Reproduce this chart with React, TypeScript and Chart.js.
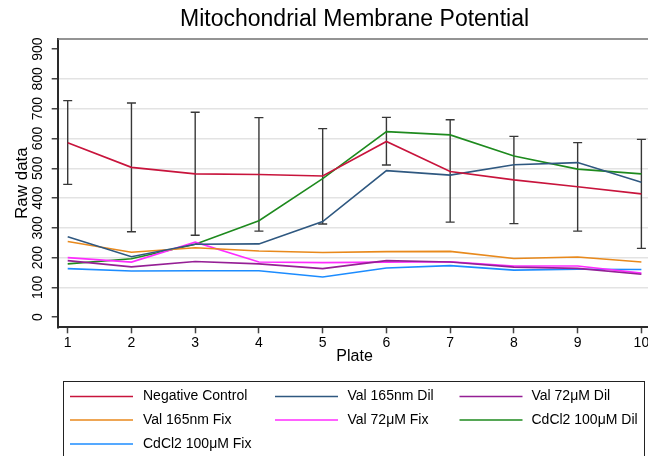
import { useEffect, useRef } from "react";
import { Chart, registerables } from "chart.js";

Chart.register(...registerables);

const plates = [1, 2, 3, 4, 5, 6, 7, 8, 9, 10];
const yTicks = [0, 100, 200, 300, 400, 500, 600, 700, 800, 900];

const seriesLabels = [
  "Negative Control",
  "Val 165nm Dil",
  "Val 72μM Dil",
  "Val 165nm Fix",
  "Val 72μM Fix",
  "CdCl2 100μM Dil",
  "CdCl2 100μM Fix",
];

const negativeControl = [586, 503, 481, 479, 474, 590, 489, 461, 438, 414];
const val165Dil = [270, 203, 245, 246, 321, 492, 477, 512, 519, 453];
const val72Dil = [190, 169, 187, 179, 163, 190, 185, 168, 164, 144];
const val165Fix = [254, 218, 233, 222, 217, 220, 221, 197, 202, 185];
const val72Fix = [200, 185, 252, 185, 183, 185, 186, 172, 172, 148];
const cdcl2Dil = [179, 196, 245, 324, 465, 623, 612, 541, 497, 481];
const cdcl2Fix = [163, 155, 156, 156, 135, 165, 173, 158, 161, 160];

const errLow = [446, 287, 275, 289, 313, 511, 319, 314, 289, 231];
const errHigh = [727, 719, 688, 670, 633, 671, 663, 607, 586, 597];

const seriesValues = [negativeControl, val165Dil, val72Dil, val165Fix, val72Fix, cdcl2Dil, cdcl2Fix];
const seriesColors = ["#c8143c", "#2f5880", "#951f95", "#e8891c", "#ff2cff", "#1e8a1e", "#1c8cff"];

const FONT = "'Liberation Sans', Arial, Helvetica, sans-serif";

const errorBarPlugin = {
  id: "errorBars",
  beforeDatasetsDraw(chart: any) {
    const { ctx, scales } = chart;
    const x = scales.x;
    const y = scales.y;
    ctx.save();
    ctx.strokeStyle = "#383838";
    ctx.lineWidth = 1.4;
    plates.forEach((p, i) => {
      const px = x.getPixelForValue(p);
      const yl = y.getPixelForValue(errLow[i]);
      const yh = y.getPixelForValue(errHigh[i]);
      ctx.beginPath();
      ctx.moveTo(px, yl);
      ctx.lineTo(px, yh);
      ctx.moveTo(px - 4.5, yl);
      ctx.lineTo(px + 4.5, yl);
      ctx.moveTo(px - 4.5, yh);
      ctx.lineTo(px + 4.5, yh);
      ctx.stroke();
    });
    ctx.restore();
  },
};

const framePlugin = {
  id: "topFrame",
  afterDraw(chart: any) {
    const { ctx, chartArea } = chart;
    ctx.save();
    ctx.strokeStyle = "#707070";
    ctx.lineWidth = 1.5;
    ctx.beginPath();
    ctx.moveTo(chartArea.left, chartArea.top);
    ctx.lineTo(chartArea.right, chartArea.top);
    ctx.stroke();
    ctx.restore();
  },
};

const legendCols = [70, 275, 459.5];
const legendTextCols = [143, 347.5, 531.5];
const legendRows = [396.5, 420, 444];

const legendPlugin = {
  id: "gridLegend",
  afterDraw(chart: any) {
    const ctx = chart.ctx;
    ctx.save();
    ctx.strokeStyle = "#222222";
    ctx.lineWidth = 1;
    ctx.strokeRect(63.5, 381.5, 581, 100);
    ctx.font = `14px ${FONT}`;
    ctx.textBaseline = "middle";
    ctx.textAlign = "left";
    chart.data.datasets.forEach((ds: any, i: number) => {
      const col = i % 3;
      const row = Math.floor(i / 3);
      const yy = legendRows[row];
      ctx.strokeStyle = ds.borderColor;
      ctx.lineWidth = 1.6;
      ctx.beginPath();
      ctx.moveTo(legendCols[col], yy);
      ctx.lineTo(legendCols[col] + 63, yy);
      ctx.stroke();
      ctx.fillStyle = "#000000";
      ctx.fillText(ds.label, legendTextCols[col], yy);
    });
    ctx.restore();
  },
};

export default function App() {
  const canvasRef = useRef<HTMLCanvasElement | null>(null);

  useEffect(() => {
    if (!canvasRef.current) return;
    Chart.defaults.font.family = FONT;
    const chart = new Chart(canvasRef.current, {
      type: "line",
      data: {
        datasets: seriesLabels.map((label, i) => ({
          label,
          data: plates.map((p, j) => ({ x: p, y: seriesValues[i][j] })),
          borderColor: seriesColors[i],
          backgroundColor: seriesColors[i],
          borderWidth: 1.6,
          pointRadius: 0,
          tension: 0,
          fill: false,
        })),
      },
      options: {
        responsive: false,
        animation: false,
        devicePixelRatio: 1,
        layout: { padding: { left: 0, right: 8.6, top: 0, bottom: 89.7 } },
        plugins: {
          legend: { display: false },
          tooltip: { enabled: false },
          title: {
            display: true,
            text: "Mitochondrial Membrane Potential",
            fullSize: false,
            color: "#000000",
            font: { size: 23, weight: "normal" as any, family: FONT },
            padding: { top: 5.7, bottom: 5.7 },
          },
        },
        scales: {
          x: {
            type: "linear",
            min: 0.843,
            max: 10.157,
            afterBuildTicks: (s: any) => {
              s.ticks = plates.map((v) => ({ value: v }));
            },
            afterFit: (s: any) => {
              s.height = 39;
            },
            ticks: {
              color: "#000000",
              font: { size: 14 },
              padding: 1,
              maxRotation: 0,
              autoSkip: false,
            },
            grid: {
              drawOnChartArea: false,
              drawTicks: true,
              tickLength: 6,
              tickColor: "#444444",
              tickWidth: 1.5,
            },
            border: { color: "#2a2a2a", width: 2 },
            title: {
              display: true,
              text: "Plate",
              color: "#000000",
              font: { size: 16 },
              padding: { top: 0, bottom: 0 },
            },
          },
          y: {
            type: "linear",
            min: -34,
            max: 934,
            afterBuildTicks: (s: any) => {
              s.ticks = yTicks.map((v) => ({ value: v }));
            },
            afterFit: (s: any) => {
              s.width = 57.7;
            },
            ticks: {
              color: "#000000",
              font: { size: 14 },
              padding: 2,
              minRotation: 90,
              maxRotation: 90,
              crossAlign: "center",
            },
            grid: {
              color: (c: any) =>
                c.tick && c.tick.value > 0 && c.tick.value < 900 ? "#e3e3e3" : "rgba(0,0,0,0)",
              lineWidth: 1.5,
              drawTicks: true,
              tickLength: 6,
              tickColor: "#444444",
              tickWidth: 1.5,
            },
            border: { color: "#2a2a2a", width: 2 },
            title: {
              display: true,
              text: "Raw data",
              color: "#000000",
              font: { size: 17 },
              padding: { top: 12, bottom: 0 },
            },
          },
        },
      },
      plugins: [errorBarPlugin, framePlugin, legendPlugin],
    });
    return () => chart.destroy();
  }, []);

  return (
    <div
      style={{
        position: "fixed",
        left: 0,
        top: 0,
        width: 648,
        height: 456,
        overflow: "hidden",
        background: "#ffffff",
      }}
    >
      <canvas ref={canvasRef} width={660} height={456} style={{ display: "block" }} />
    </div>
  );
}
